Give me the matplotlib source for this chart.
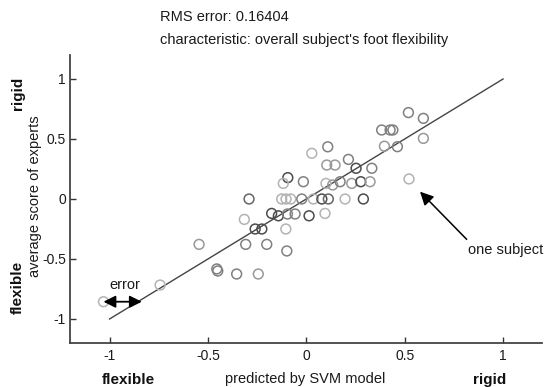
import matplotlib
matplotlib.use("Agg")
import matplotlib.pyplot as plt
import numpy as np

plt.rcParams['font.family'] = ['Liberation Sans', 'DejaVu Sans']

# predicted value (SVM model) vs. average score of experts, one point per subject
predicted = [0.028, 0.109, 0.104, 0.146, -0.094, -0.117, -0.015, 0.100, -0.291,
             -0.125, -0.103, -0.079, -0.023, 0.036, 0.079, 0.112, -0.315, -0.176,
             -0.142, -0.096, -0.057, 0.014, 0.095, -0.104, -0.260, -0.226, 0.519,
             0.595, 0.383, 0.426, 0.440, 0.595, 0.397, 0.463, 0.214, 0.253,
             0.333, 0.134, 0.172, 0.231, 0.277, 0.324, 0.522, 0.197, 0.290,
             -0.545, -0.308, -0.201, -0.099, -0.455, -0.450, -0.354, -0.244,
             -0.743, -1.031]
experts = [0.381, 0.435, 0.283, 0.283, 0.178, 0.130, 0.144, 0.130, 0.0,
           0.0, 0.0, 0.0, 0.0, 0.0, 0.0, 0.0, -0.170, -0.120,
           -0.140, -0.125, -0.125, -0.140, -0.120, -0.250, -0.250, -0.250, 0.720,
           0.672, 0.575, 0.575, 0.575, 0.505, 0.440, 0.436, 0.330, 0.256,
           0.256, 0.117, 0.144, 0.130, 0.144, 0.144, 0.167, 0.0, 0.0,
           -0.378, -0.378, -0.378, -0.433, -0.583, -0.600, -0.625, -0.625,
           -0.717, -0.856]
# grey level of each circle (0 = black, 1 = white)
tone = [0.7, 0.5, 0.6, 0.6, 0.3, 0.7, 0.5, 0.7, 0.4,
        0.7, 0.7, 0.7, 0.5, 0.7, 0.3, 0.4, 0.7, 0.3,
        0.3, 0.5, 0.5, 0.3, 0.7, 0.7, 0.3, 0.3, 0.5,
        0.5, 0.5, 0.5, 0.5, 0.6, 0.6, 0.5, 0.5, 0.3,
        0.5, 0.6, 0.5, 0.6, 0.3, 0.6, 0.7, 0.7, 0.3,
        0.6, 0.5, 0.5, 0.5, 0.5, 0.5, 0.5, 0.6,
        0.7, 0.7]

ideal_x = [-1, 1]
ideal_y = [-1, 1]

ticks = [-1, -0.5, 0, 0.5, 1]
tick_labels = ['-1', '-0.5', '0', '0.5', '1']

W, H = 544, 387
fig = plt.figure(figsize=(W / 100, H / 100), dpi=100)
ax = fig.add_axes([70.2 / W, 44 / H, 472.2 / W, 288 / H])

ax.plot(ideal_x, ideal_y, color='#444444', lw=1.0, zorder=2)
ax.scatter(predicted, experts, s=50, facecolors='none',
           edgecolors=plt.cm.gray(np.array(tone)), linewidths=1.1, zorder=3)

ax.set_xlim(-1.2, 1.2)
ax.set_ylim(-1.2, 1.2)
ax.set_xticks(ticks)
ax.set_xticklabels(tick_labels)
ax.set_yticks(ticks)
ax.set_yticklabels(tick_labels)
ax.tick_params(direction='in', length=4, width=1, colors='#333333',
               labelsize=10, pad=4, labelcolor='#1a1a1a')
ax.tick_params(axis='y', pad=3)
for s in ['top', 'right']:
    ax.spines[s].set_visible(False)
for s in ['left', 'bottom']:
    ax.spines[s].set_color('#444444')
    ax.spines[s].set_linewidth(1.3)

# annotations
ax.annotate('', xy=(-1.031, -0.856), xytext=(-0.836, -0.856),
            arrowprops=dict(arrowstyle='<|-|>', color='black', lw=1.3,
                            mutation_scale=18, shrinkA=0, shrinkB=0))
ax.text(-0.921, -0.717, 'error', ha='center', va='center', fontsize=10.5,
        color='#1a1a1a')
ax.annotate('', xy=(0.578, 0.061), xytext=(0.815, -0.336),
            arrowprops=dict(arrowstyle='-|>', color='black', lw=1.1,
                            mutation_scale=20, shrinkA=0, shrinkB=0))
ax.text(0.822, -0.425, 'one subject', ha='left', va='center', fontsize=10.5,
        color='#1a1a1a', clip_on=False)

# titles and labels
fig.text(160 / W, 1 - 17 / H, 'RMS error: 0.16404', ha='left', va='center',
         fontsize=10.5, color='#1a1a1a')
fig.text(160 / W, 1 - 40 / H, "characteristic: overall subject's foot flexibility",
         ha='left', va='center', fontsize=10.5, color='#1a1a1a')
fig.text(35 / W, 1 - 196 / H, 'average score of experts', rotation=90,
         ha='center', va='center', fontsize=10.5, color='#1a1a1a')
fig.text(18 / W, 1 - 93 / H, 'rigid', rotation=90, ha='center', va='center',
         fontsize=11, fontweight='bold', color='#111111')
fig.text(18 / W, 1 - 287 / H, 'flexible', rotation=90, ha='center', va='center',
         fontsize=11, fontweight='bold', color='#111111')
fig.text(305 / W, 1 - 379 / H, 'predicted by SVM model', ha='center', va='center',
         fontsize=10.5, color='#1a1a1a')
fig.text(128 / W, 1 - 380 / H, 'flexible', ha='center', va='center',
         fontsize=11, fontweight='bold', color='#111111')
fig.text(490 / W, 1 - 380 / H, 'rigid', ha='center', va='center',
         fontsize=11, fontweight='bold', color='#111111')

fig.savefig('out.png', dpi=100)
